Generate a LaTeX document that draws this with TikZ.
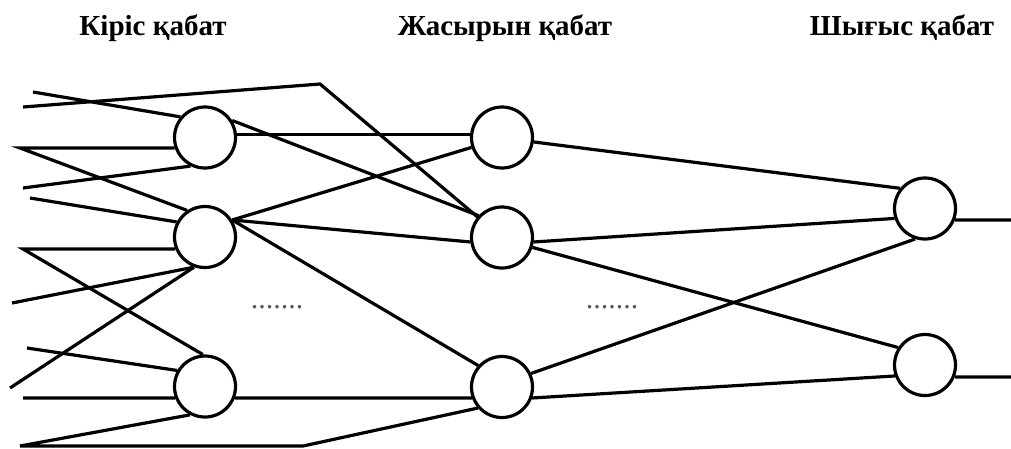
\documentclass[tikz,border=0pt]{standalone}
\usepackage{fontspec}
\setmainfont{Liberation Serif}
\begin{document}
\begin{tikzpicture}[x=1pt,y=-1pt,
  neuron/.style={draw,circle,line width=3.2pt,minimum size=61pt,inner sep=0pt,fill=white},
  link/.style={line width=3.2pt,line join=miter},
  title/.style={anchor=base,font=\fontsize{29}{32}\selectfont\bfseries},
  dots/.style={anchor=base,font=\fontsize{30}{32}\selectfont,text=black!65}]
\useasboundingbox (0,0) rectangle (1011,448);
% titles
\node[title] (t1) at (153,35) {Кіріс қабат};
\node[title] (t2) at (505,35) {Жасырын қабат};
\node[title] (t3) at (902,35) {Шығыс қабат};
% neurons
\node[neuron] (I1) at (205,137.5) {};
\node[neuron] (I2) at (205,237) {};
\node[neuron] (I3) at (205,386.5) {};
\node[neuron] (H1) at (502,137.5) {};
\node[neuron] (H2) at (502,237.5) {};
\node[neuron] (H3) at (502,387) {};
\node[neuron] (O1) at (925,208.5) {};
\node[neuron] (O2) at (925,365) {};
% dots
\node[dots] (d1) at (277,308) {.......};
\node[dots] (d2) at (612,308) {.......};
% free ends
\coordinate (a1) at (33,92);
\coordinate (a2) at (23,107);
\coordinate (b2) at (320,84);
\coordinate (a3) at (20,148);
\coordinate (a4) at (23,188);
\coordinate (a5) at (30,198);
\coordinate (a6) at (23,249);
\coordinate (a7) at (12,303);
\coordinate (a8) at (10,388);
\coordinate (a9) at (27,348);
\coordinate (a10) at (23,398);
\coordinate (a11) at (20,446);
\coordinate (b11) at (303,446);
\coordinate (o1) at (1011,220);
\coordinate (o2) at (1011,377);
% inputs
\draw[link] (a1) -- (I1.140);
\draw[link] (a2) -- (b2) -- (H2.140);
\draw[link] (I1.199) -- (a3) -- (I2.124);
\draw[link] (a4) -- (I1.243);
\draw[link] (a5) -- (I2.152);
\draw[link] (I2.202) -- (a6) -- (I3.94);
\draw[link] (a7) -- (I2.250);
\draw[link] (a8) -- (I2.250);
\draw[link] (a9) -- (I3.150);
\draw[link] (a10) -- (I3.201);
\draw[link] (I3.242) -- (a11) -- (b11) -- (H3.221);
% input -> hidden
\draw[link] (I1.6) -- (H1.174);
\draw[link] (I1.32) -- (H2.137);
\draw[link] (I2.32) -- (H1.198);
\draw[link] (I2.32) -- (H2.188);
\draw[link] (I2.32) -- (H3.138);
\draw[link] (I3.339) -- (H3.200);
% hidden -> output
\draw[link] (H1.352) -- (O1.141);
\draw[link] (H2.352) -- (O1.198);
\draw[link] (H2.342) -- (O2.147);
\draw[link] (H3.25) -- (O1.252);
\draw[link] (H3.340) -- (O2.200);
% outputs
\draw[link] (O1.339) -- (o1);
\draw[link] (O2.338) -- (o2);
\end{tikzpicture}
\end{document}
